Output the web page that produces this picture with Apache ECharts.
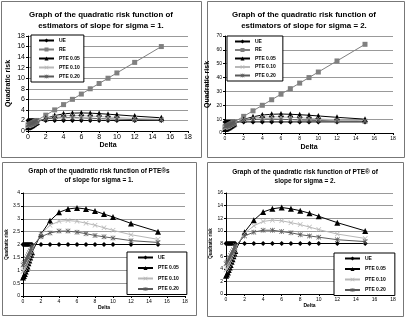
<!DOCTYPE html>
<html>
<head>
<meta charset="utf-8">
<script src="https://cdn.jsdelivr.net/npm/echarts@6/dist/echarts.min.js"></script>
<style>
  html, body { margin: 0; padding: 0; background: #fff; }
  #main { width: 407px; height: 319px; }
</style>
</head>
<body>
<div id="main"></div>
<script>
// delta values (x)
const delta = [0, 0.1, 0.2, 0.3, 0.4, 0.5, 0.6, 0.7, 0.8, 0.9, 1, 2, 3, 4, 5, 6, 7, 8, 9, 10, 12, 15];

// sigma = 1
const ue1 = [2, 2, 2, 2, 2, 2, 2, 2, 2, 2, 2, 2, 2, 2, 2, 2, 2, 2, 2, 2, 2, 2];
const re1 = [1, 1.1, 1.2, 1.3, 1.4, 1.5, 1.6, 1.7, 1.8, 1.9, 2, 3, 4, 5, 6, 7, 8, 9, 10, 11, 13, 16];
const pte05_1 = [0.72, 0.78, 0.85, 0.95, 1.05, 1.15, 1.27, 1.38, 1.5, 1.6, 1.7, 2.4, 2.92, 3.25, 3.38, 3.42, 3.38, 3.3, 3.18, 3.07, 2.82, 2.5];
const pte10_1 = [0.95, 1.0, 1.07, 1.15, 1.23, 1.32, 1.42, 1.52, 1.62, 1.72, 1.82, 2.4, 2.75, 2.9, 2.93, 2.9, 2.83, 2.75, 2.65, 2.55, 2.38, 2.2];
const pte20_1 = [1.2, 1.25, 1.3, 1.37, 1.45, 1.52, 1.6, 1.68, 1.76, 1.85, 1.93, 2.3, 2.45, 2.52, 2.52, 2.48, 2.42, 2.35, 2.3, 2.25, 2.15, 2.08];

// sigma = 2
const ue2 = [8, 8, 8, 8, 8, 8, 8, 8, 8, 8, 8, 8, 8, 8, 8, 8, 8, 8, 8, 8, 8, 8];
const re2 = [4, 4.4, 4.8, 5.2, 5.6, 6, 6.4, 6.8, 7.2, 7.6, 8, 12, 16, 20, 24, 28, 32, 36, 40, 44, 52, 64];
const pte05_2 = [2.9, 3.1, 3.4, 3.8, 4.2, 4.6, 5.1, 5.5, 6.0, 6.4, 6.8, 9.8, 11.7, 13.0, 13.5, 13.7, 13.5, 13.2, 12.8, 12.3, 11.3, 10.0];
const pte10_2 = [3.8, 4.0, 4.3, 4.6, 4.9, 5.3, 5.7, 6.1, 6.5, 6.9, 7.3, 9.6, 10.8, 11.5, 11.7, 11.6, 11.3, 11.0, 10.6, 10.2, 9.5, 8.8];
const pte20_2 = [4.8, 5.0, 5.2, 5.5, 5.8, 6.1, 6.4, 6.7, 7.0, 7.4, 7.7, 9.2, 9.8, 10.1, 10.1, 9.9, 9.7, 9.4, 9.2, 9.0, 8.6, 8.3];

const titles = [
  'Graph of the quadratic risk function of\nestimators of slope for sigma = 1.',
  'Graph of the quadratic risk function of\nestimators of slope for sigma = 2.',
  'Graph of the quadratic risk function of PTE\u00AEs\nof slope for sigma = 1.',
  'Graph of the quadratic risk function of PTE\u00AE of\nslope for sigma = 2.'
];

const FONT = 'Liberation Sans, Arial, sans-serif';
const xPath = 'path://M1,0 L5,4 L9,0 L10,1 L6,5 L10,9 L9,10 L5,6 L1,10 L0,9 L4,5 L0,1 Z';
const starPath = 'path://M1,0 L4.3,3.3 L4.3,0 L5.7,0 L5.7,3.3 L9,0 L10,1 L6,5 L10,9 L9,10 L5.7,6.7 L5.7,10 L4.3,10 L4.3,6.7 L1,10 L0,9 L4,5 L0,1 Z';

const styles = {
  'UE': { color: '#000', symbol: 'diamond', size: 5 },
  'RE': { color: '#808080', symbol: 'rect', size: 5 },
  'PTE 0.05': { color: '#000', symbol: 'triangle', size: 6 },
  'PTE 0.10': { color: '#b8b8b8', symbol: xPath, size: 5 },
  'PTE 0.20': { color: '#5a5a5a', symbol: starPath, size: 5 }
};

function mk(name, vals, gi) {
  const s = styles[name];
  return {
    type: 'line', name: name,
    xAxisIndex: gi, yAxisIndex: gi,
    data: delta.map((d, i) => [d, vals[i]]),
    symbol: s.symbol, symbolSize: s.size, showSymbol: true,
    lineStyle: { color: s.color, width: 1 },
    itemStyle: { color: s.color },
    animation: false
  };
}

const grids = [
  { left: 28, top: 36, width: 160, height: 95 },
  { left: 225, top: 36, width: 168, height: 97 },
  { left: 23, top: 193, width: 162, height: 103 },
  { left: 226, top: 193, width: 167, height: 101 }
];

const yMax = [18, 70, 4, 16];
const yStep = [2, 10, 0.5, 2];
const labelSize = [7, 5, 5, 5];
const nameSize = [7, 7, 5, 5];

let xAxes = [], yAxes = [];
grids.forEach((g, i) => {
  xAxes.push({
    type: 'value', gridIndex: i, min: 0, max: 18, interval: 2,
    name: 'Delta', nameLocation: 'middle', nameGap: i < 2 ? 11 : 8,
    nameTextStyle: { fontFamily: FONT, fontSize: nameSize[i], fontWeight: 'bold', color: '#000' },
    axisLine: { lineStyle: { color: '#000', width: 1 } },
    axisTick: { show: true, length: 2, lineStyle: { color: '#000' } },
    axisLabel: { fontFamily: FONT, fontSize: labelSize[i], color: '#000', margin: 3 },
    splitLine: { show: false }
  });
  yAxes.push({
    type: 'value', gridIndex: i, min: 0, max: yMax[i], interval: yStep[i],
    name: 'Quadratic risk', nameLocation: 'middle', nameRotate: 90, nameGap: i === 0 ? 16 : (i === 1 ? 14 : 11),
    nameTextStyle: { fontFamily: FONT, fontSize: i < 2 ? 7 : 4.5, fontWeight: 'bold', color: '#000' },
    axisLine: { show: true, lineStyle: { color: '#000', width: 1 } },
    axisTick: { show: true, length: 2, lineStyle: { color: '#000' } },
    axisLabel: { fontFamily: FONT, fontSize: labelSize[i], color: '#000', margin: 3 },
    splitLine: { show: true, lineStyle: { color: '#999', width: 1 } }
  });
});

const series = [
  mk('UE', ue1, 0), mk('RE', re1, 0), mk('PTE 0.05', pte05_1, 0), mk('PTE 0.10', pte10_1, 0), mk('PTE 0.20', pte20_1, 0),
  mk('UE', ue2, 1), mk('RE', re2, 1), mk('PTE 0.05', pte05_2, 1), mk('PTE 0.10', pte10_2, 1), mk('PTE 0.20', pte20_2, 1),
  mk('UE', ue1, 2), mk('PTE 0.05', pte05_1, 2), mk('PTE 0.10', pte10_1, 2), mk('PTE 0.20', pte20_1, 2),
  mk('UE', ue2, 3), mk('PTE 0.05', pte05_2, 3), mk('PTE 0.10', pte10_2, 3), mk('PTE 0.20', pte20_2, 3)
];

function legend(left, top, names, gap, padLeft, padRight) {
  return {
    left: left, top: top, orient: 'vertical',
    data: names, itemWidth: 15, itemHeight: 5, itemGap: gap,
    padding: [3, padRight, 3, padLeft],
    backgroundColor: '#fff', borderColor: '#000', borderWidth: 1,
    selectedMode: false,
    textStyle: { fontFamily: FONT, fontSize: 5, fontWeight: 'bold', color: '#000' }
  };
}

const all5 = ['UE', 'RE', 'PTE 0.05', 'PTE 0.10', 'PTE 0.20'];
const all4 = ['UE', 'PTE 0.05', 'PTE 0.10', 'PTE 0.20'];

const panels = [
  { x: 1, y: 1, w: 200, h: 156, cx: 101, ty: 10, fs: 7.9 },
  { x: 207, y: 1, w: 197, h: 156, cx: 304, ty: 10, fs: 7.9 },
  { x: 2, y: 162, w: 194, h: 153, cx: 99, ty: 167, fs: 6.5 },
  { x: 207, y: 162, w: 196, h: 154, cx: 305, ty: 168, fs: 6.5 }
];

const graphic = [];
panels.forEach((p, i) => {
  graphic.push({
    type: 'rect', silent: true, z: -10,
    shape: { x: p.x + 0.5, y: p.y + 0.5, width: p.w, height: p.h },
    style: { fill: '#fff', stroke: '#777', lineWidth: 1 }
  });
  graphic.push({
    type: 'text', silent: true, x: p.cx, y: p.ty,
    style: {
      text: titles[i], textAlign: 'center',
      font: 'bold ' + p.fs + 'px ' + FONT, fill: '#000',
      lineHeight: p.fs + 2.5
    }
  });
});

const chart = echarts.init(document.getElementById('main'));
chart.setOption({
  backgroundColor: '#fff',
  animation: false,
  grid: grids,
  xAxis: xAxes,
  yAxis: yAxes,
  legend: [
    legend(31, 35, all5, 4, 7, 4),
    legend(227, 36, all5, 3.5, 7, 7),
    legend(127, 252, all4, 5.5, 10, 8),
    legend(334, 253, all4, 5.5, 10, 9)
  ],
  graphic: graphic,
  series: series
});
</script>
</body>
</html>
